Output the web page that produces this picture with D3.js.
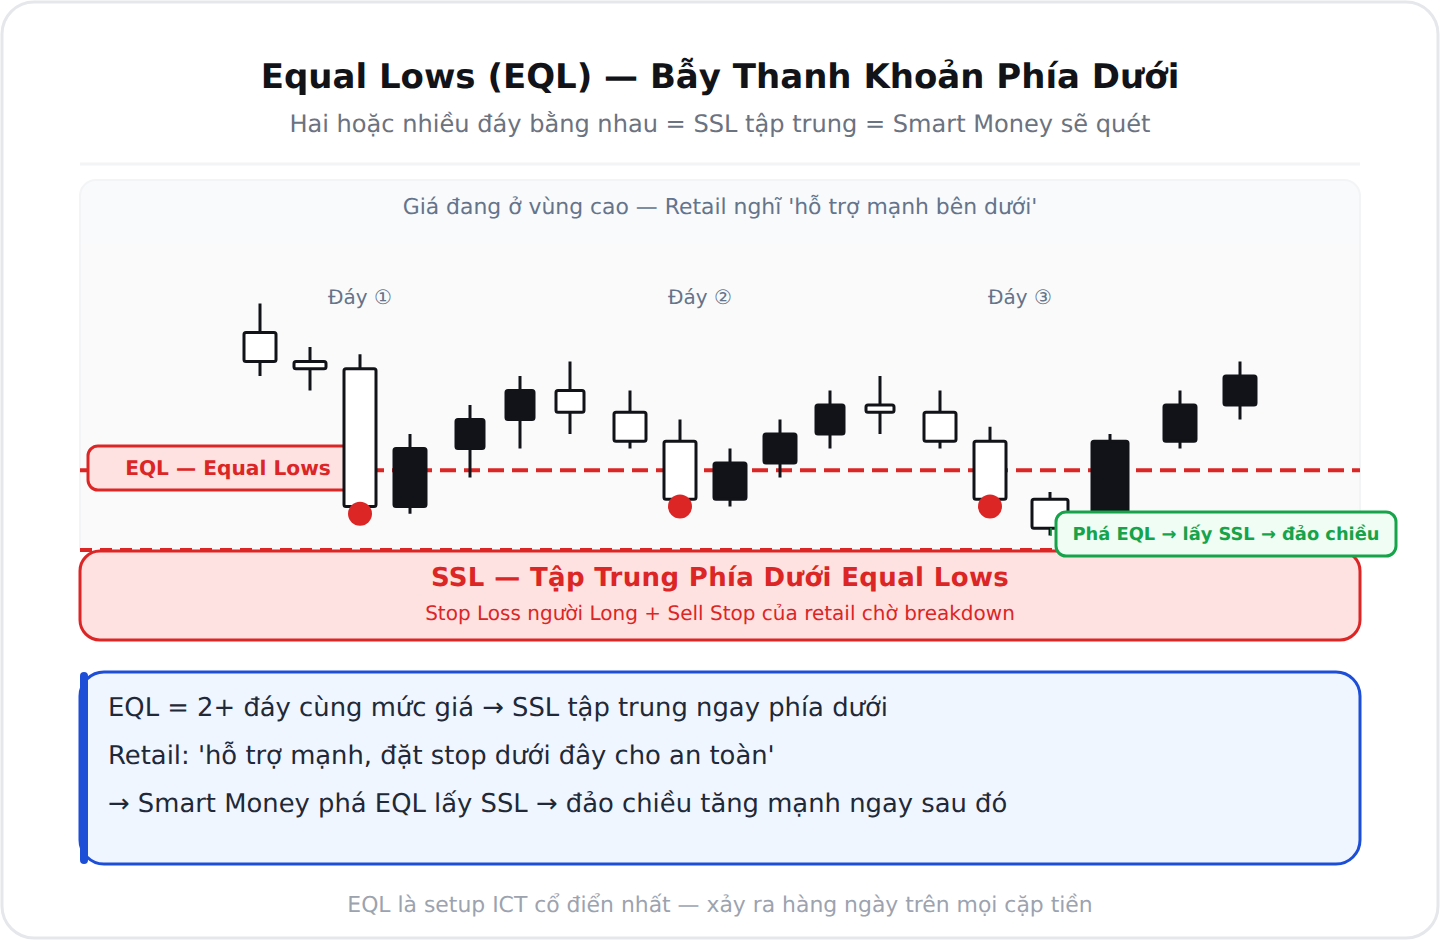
<!DOCTYPE html>
<html>
<head>
<meta charset="utf-8">
<script src="https://cdn.jsdelivr.net/npm/d3@7"></script>
<style>
html, body { margin: 0; padding: 0; background: #fff; }
svg { display: block; }
text { font-family: "DejaVu Sans", sans-serif; text-rendering: geometricPrecision; }
</style>
</head>
<body>
<div id="chart"></div>
<script>
/* Equal Lows candles */

// bar number of each candle
const bars = [0, 5, 10, 15, 21, 26, 31, 37, 42, 47, 52, 57, 62, 68, 73, 79, 85, 92, 98];
// prices
const highs = [114, 111, 110.5, 105, 107, 109, 110, 108, 106, 104, 106, 108, 109, 108, 105.5, 101, 105, 108, 110];
const opens = [112, 110, 109.5, 100, 104, 106, 108, 106.5, 104.5, 100.5, 103, 105, 107, 106.5, 104.5, 100.5, 98.5, 104.5, 107];
const closes = [110, 109.5, 100, 104, 106, 108, 106.5, 104.5, 100.5, 103, 105, 107, 106.5, 104.5, 100.5, 98.5, 104.5, 107, 109];
const lows = [109, 108, 99.5, 99.5, 102, 104, 105, 104, 100, 100, 102, 104, 105, 104, 100, 98, 98, 104, 106];

const eqlLevel = 102.5;
const sweptBars = [10, 42, 73];
const sweptLows = [99.5, 100, 100];
const dayBars = [10, 44, 76];
const dayLabels = ["Đáy ①", "Đáy ②", "Đáy ③"];

const titleText = "Equal Lows (EQL) — Bẫy Thanh Khoản Phía Dưới";
const subtitleText = "Hai hoặc nhiều đáy bằng nhau = SSL tập trung = Smart Money sẽ quét";
const panelNote = "Giá đang ở vùng cao — Retail nghĩ 'hỗ trợ mạnh bên dưới'";
const eqlLabel = "EQL — Equal Lows";
const breakLabel = "Phá EQL → lấy SSL → đảo chiều";
const sslTitle = "SSL — Tập Trung Phía Dưới Equal Lows";
const sslSub = "Stop Loss người Long + Sell Stop của retail chờ breakdown";
const noteLines = [
  "EQL = 2+ đáy cùng mức giá → SSL tập trung ngay phía dưới",
  "Retail: 'hỗ trợ mạnh, đặt stop dưới đây cho an toàn'",
  "→ Smart Money phá EQL lấy SSL → đảo chiều tăng mạnh ngay sau đó"
];
const footerText = "EQL là setup ICT cổ điển nhất — xảy ra hàng ngày trên mọi cặp tiền";

const width = 1440, height = 940;
const red = "#dc2626", ink = "#111318", blue = "#1d4ed8", green = "#16a34a";

const svg = d3.select("#chart").append("svg")
  .attr("width", width)
  .attr("height", height)
  .attr("viewBox", `0 0 ${width} ${height}`);

const x = d3.scaleLinear().domain([0, 98]).range([260, 1240]);
// 14.5px per price unit
const y = d3.scaleLinear().domain([100, 114]).range([506.5, 303.5]);

// body width by candle
const bodyW = [32, 32, 32, 32, 28, 28, 28, 32, 32, 32, 32, 28, 28, 32, 32, 36, 36, 32, 32];

function label(txt, cx, cy, size, fill, bold, spacing) {
  return svg.append("text")
    .attr("x", cx).attr("y", cy)
    .attr("text-anchor", "middle")
    .attr("font-size", size)
    .attr("font-weight", bold ? "bold" : "normal")
    .attr("letter-spacing", spacing || 0)
    .attr("fill", fill)
    .text(txt);
}

// card
svg.append("rect").attr("x", 2).attr("y", 2).attr("width", 1436).attr("height", 936)
  .attr("rx", 32).attr("fill", "#fff").attr("stroke", "#e5e7eb").attr("stroke-width", 3);

label(titleText, 720, 88, 34, "#111318", true, 0);
label(subtitleText, 720, 132, 24.08, "#6b7280", false, 0);
svg.append("line").attr("x1", 80).attr("x2", 1360).attr("y1", 164).attr("y2", 164)
  .attr("stroke", "#f3f4f6").attr("stroke-width", 3);

// chart panel
svg.append("rect").attr("x", 80).attr("y", 180).attr("width", 1280).attr("height", 80)
  .attr("rx", 16).attr("fill", "#f8fafc").attr("stroke", "#f3f4f6").attr("stroke-width", 2);
svg.append("rect").attr("x", 80).attr("y", 244).attr("width", 1280).attr("height", 306)
  .attr("fill", "#fafafa");
svg.selectAll(".panel-side").data([80, 1360]).join("line")
  .attr("class", "panel-side")
  .attr("x1", d => d).attr("x2", d => d)
  .attr("y1", 196).attr("y2", 550)
  .attr("stroke", "#f3f4f6").attr("stroke-width", 2);
label(panelNote, 720, 214, 21.9, "#64748b", false, 0);

// EQL level
svg.append("line").attr("x1", 80).attr("x2", 1360)
  .attr("y1", y(eqlLevel)).attr("y2", y(eqlLevel))
  .attr("stroke", red).attr("stroke-width", 4).attr("stroke-dasharray", "16 8");
svg.append("rect").attr("x", 88).attr("y", 446).attr("width", 280).attr("height", 44)
  .attr("rx", 10).attr("fill", "#fee2e2").attr("stroke", red).attr("stroke-width", 3);
label(eqlLabel, 228, 475, 20.2, red, true, 0);

svg.selectAll(".day-label").data(dayLabels).join("text")
  .attr("class", "day-label")
  .attr("x", (d, i) => x(dayBars[i]))
  .attr("y", 304)
  .attr("text-anchor", "middle")
  .attr("font-size", 20)
  .attr("fill", "#64748b")
  .text(d => d);

// candles
const candle = svg.selectAll(".candle").data(bars).join("g").attr("class", "candle");
candle.append("line")
  .attr("x1", d => x(d)).attr("x2", d => x(d))
  .attr("y1", (d, i) => y(highs[i]))
  .attr("y2", (d, i) => y(lows[i]))
  .attr("stroke", ink).attr("stroke-width", 3);
candle.append("rect")
  .attr("x", (d, i) => x(d) - bodyW[i] / 2)
  .attr("width", (d, i) => bodyW[i])
  .attr("y", (d, i) => y(Math.max(opens[i], closes[i])))
  .attr("height", (d, i) => Math.abs(y(opens[i]) - y(closes[i])))
  .attr("rx", 2)
  .attr("fill", (d, i) => closes[i] > opens[i] ? ink : "#fff")
  .attr("stroke", ink).attr("stroke-width", 3);

// swept lows
svg.selectAll(".low-dot").data(sweptBars).join("circle")
  .attr("class", "low-dot")
  .attr("cx", d => x(d))
  .attr("cy", (d, i) => y(sweptLows[i]))
  .attr("r", 12)
  .attr("fill", red);

// SSL zone
svg.append("line").attr("x1", 80).attr("x2", 1360).attr("y1", 550).attr("y2", 550)
  .attr("stroke", red).attr("stroke-width", 4).attr("stroke-dasharray", "12 8");
svg.append("rect").attr("x", 80).attr("y", 551).attr("width", 1280).attr("height", 89)
  .attr("rx", 20).attr("fill", "#fee2e2").attr("stroke", red).attr("stroke-width", 3);
label(sslTitle, 720, 586, 26, red, true, 0.35);
label(sslSub, 720, 620, 20.03, red, false, 0);

// break label
svg.append("line").attr("x1", x(79) + 1).attr("x2", x(79) + 1).attr("y1", 528).attr("y2", 536)
  .attr("stroke", green).attr("stroke-width", 1.5);
svg.append("rect").attr("x", 1056).attr("y", 512).attr("width", 340).attr("height", 44)
  .attr("rx", 10).attr("fill", "#f0fdf4").attr("stroke", green).attr("stroke-width", 3);
label(breakLabel, 1226, 540, 17.83, green, true, 0);

// note box
svg.append("rect").attr("x", 80).attr("y", 672).attr("width", 1280).attr("height", 192)
  .attr("rx", 24).attr("fill", "#eff6ff").attr("stroke", blue).attr("stroke-width", 3);
svg.append("rect").attr("x", 80).attr("y", 672).attr("width", 8).attr("height", 192)
  .attr("rx", 4).attr("fill", blue);
svg.selectAll(".note-line").data(noteLines).join("text")
  .attr("class", "note-line")
  .attr("x", 108)
  .attr("y", (d, i) => 716 + i * 48)
  .attr("font-size", 25.84)
  .attr("fill", "#1f2937")
  .text(d => d);

label(footerText, 720, 912, 21.9, "#9ca3af", false, 0);
</script>
</body>
</html>
